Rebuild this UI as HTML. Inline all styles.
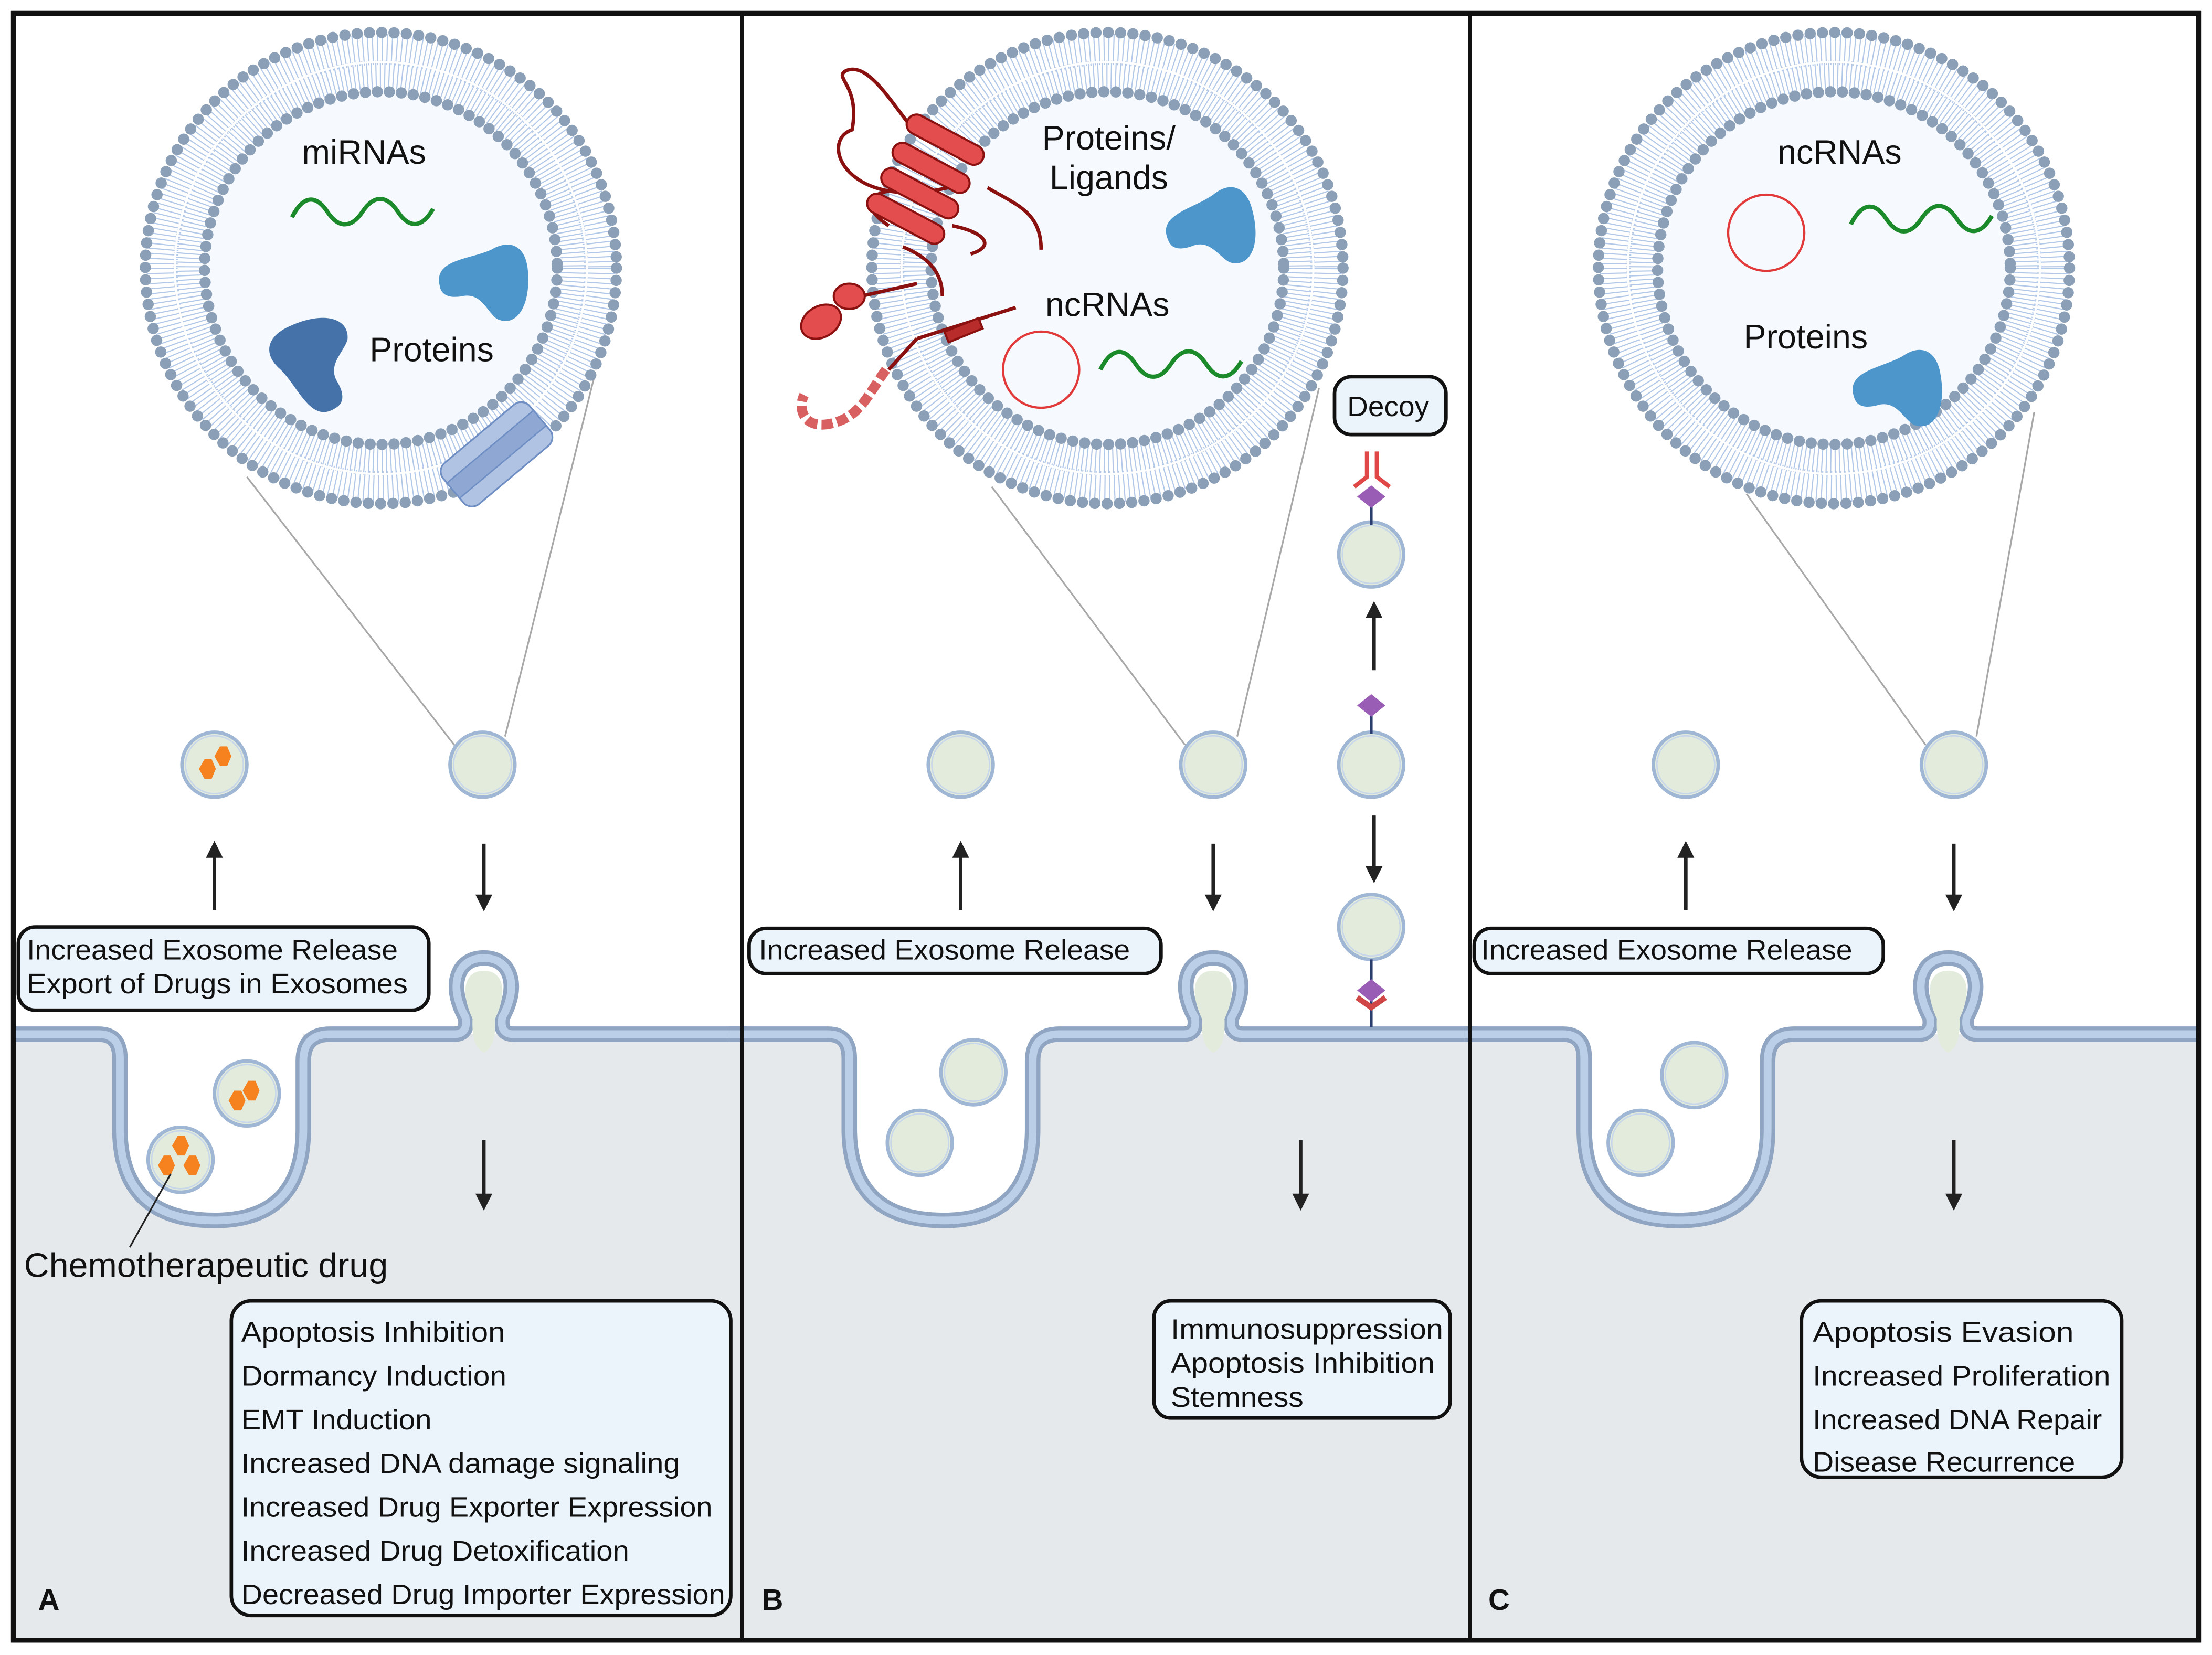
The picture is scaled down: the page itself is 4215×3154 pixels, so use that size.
<!DOCTYPE html>
<html><head><meta charset="utf-8"><style>
html,body{margin:0;padding:0;background:#fff}
svg{display:block}
text{font-family:"Liberation Sans",sans-serif;fill:#111}
</style></head><body>
<svg width="4215" height="3154" viewBox="0 0 1568 1173" preserveAspectRatio="none" xmlns="http://www.w3.org/2000/svg">
<defs>
<g id="ves">
  <circle r="23" fill="#e3ecdc" stroke="#9fb6d4" stroke-width="2.5"/>
  <circle r="20.5" fill="none" stroke="#c8d6ea" stroke-width="1"/>
</g>
<g id="big">
  <circle r="168" fill="#fff"/>
  <circle r="126" fill="#f6f9fd"/>
  <circle r="155" fill="none" stroke="#b2c8e8" stroke-width="22" stroke-dasharray="0.8 2.6"/>
  <circle r="137" fill="none" stroke="#b2c8e8" stroke-width="20" stroke-dasharray="0.8 2.3"/>
  <circle r="146" fill="none" stroke="#fff" stroke-width="1.5"/>
  <circle r="167" fill="none" stroke="#8b9fb6" stroke-width="8" stroke-linecap="round" stroke-dasharray="0 8.75"/>
  <circle r="125" fill="none" stroke="#8b9fb6" stroke-width="8" stroke-linecap="round" stroke-dasharray="0 8.5"/>
</g>
<g id="mem">
  <rect x="0" y="733" width="530" height="430" fill="#e6e9ec"/>
  <path d="M85 733 V800 Q85 865 152 865 Q215 865 215 800 V733 Z" fill="#fff"/>
  <path d="M0 733 H70 Q85 733 85 750 V800 Q85 865 152 865 Q215 865 215 800 V752 Q215 733 234 733 H322 Q332 733 330 721 C318 700 323 679 343 679 C363 679 368 700 356 721 Q354 733 364 733 H530" fill="none" stroke="#8fa5c2" stroke-width="11"/>
  <path d="M0 733 H70 Q85 733 85 750 V800 Q85 865 152 865 Q215 865 215 800 V752 Q215 733 234 733 H322 Q332 733 330 721 C318 700 323 679 343 679 C363 679 368 700 356 721 Q354 733 364 733 H530" fill="none" stroke="#bccfe8" stroke-width="5.5"/>
  <path d="M335 722 C326 703 329 688 343 688 C357 688 360 703 351 722 Q352 742 343 746 Q334 742 335 722Z" fill="#e3ecdc"/>
</g>
<g id="wave"><path d="M0 12 C8 -4 17 -4 25 8 C33 20 42 20 50 8 C58 -4 67 -4 75 8 C83 20 92 20 100 6" fill="none" stroke="#1a8a2a" stroke-width="3"/></g>
<g id="bean"><path d="M-30 10 C-38 -8 -12 -12 2 -22 C14 -32 26 -28 30 -10 C36 14 28 30 14 26 C6 22 0 10 -12 14 C-22 18 -28 16 -30 10Z"/></g>
</defs>

<rect width="1568" height="1173" fill="#fff"/>
<use href="#mem"/>
<use href="#mem" transform="translate(517,0)"/>
<use href="#mem" transform="translate(1038,0)"/>

<g stroke="#a8a8a8" stroke-width="1.2" fill="none">
<line x1="322" y1="528" x2="175" y2="338"/><line x1="358" y1="522" x2="421" y2="268"/>
<line x1="840" y1="528" x2="703" y2="345"/><line x1="877" y1="522" x2="935" y2="275"/>
<line x1="1365" y1="528" x2="1238" y2="350"/><line x1="1401" y1="522" x2="1442" y2="292"/>
</g>

<use href="#big" transform="translate(270,190)"/>
<use href="#big" transform="translate(785,190)"/>
<use href="#big" transform="translate(1300,190)"/>

<text x="258" y="116" font-size="24" text-anchor="middle">miRNAs</text>
<use href="#wave" transform="translate(207,142)"/>
<use href="#bean" transform="translate(343,198) rotate(10)" fill="#4d96cc"/>
<use href="#bean" transform="translate(222,260) rotate(-100) scale(1.05)" fill="#4573a9"/>
<text x="306" y="256" font-size="24" text-anchor="middle">Proteins</text>
<g transform="translate(352,322) rotate(-40)">
  <rect x="-40" y="-19" width="80" height="38" rx="8" fill="#b0c3e2" stroke="#6f8ec4" stroke-width="1.2"/>
  <rect x="-40" y="-7" width="80" height="14" fill="#8fa8d3" stroke="#6f8ec4" stroke-width="1"/>
</g>

<text x="786" y="106" font-size="24" text-anchor="middle">Proteins/</text>
<text x="786" y="134" font-size="24" text-anchor="middle">Ligands</text>
<use href="#bean" transform="translate(858,160) rotate(0)" fill="#4d96cc"/>
<text x="785" y="224" font-size="24" text-anchor="middle">ncRNAs</text>
<circle cx="738" cy="262" r="27" fill="none" stroke="#e23a3a" stroke-width="1.6"/>
<use href="#wave" transform="translate(780,250)"/>
<g stroke="#8b1010" stroke-width="2.5" fill="none">
  <path d="M672 133 C600 150 580 100 604 92 C610 60 590 55 600 50 C615 44 630 70 646 90"/>
  <path d="M700 133 C720 145 738 150 738 177"/>
  <path d="M655 140 C630 128 600 140 630 160"/>
  <path d="M675 160 C700 165 705 175 688 180"/>
  <path d="M640 175 C665 185 668 200 668 210"/>
  <line x1="610" y1="210" x2="650" y2="201"/>
  <path d="M650 240 L720 218"/>
  <path d="M630 262 L650 240"/>
</g>
<g fill="#e34d4d" stroke="#8b1010" stroke-width="1.5">
  <rect x="640" y="92" width="60" height="14" rx="7" transform="rotate(28 670 99)"/>
  <rect x="630" y="112" width="60" height="14" rx="7" transform="rotate(28 660 119)"/>
  <rect x="622" y="130" width="60" height="14" rx="7" transform="rotate(28 652 137)"/>
  <rect x="612" y="148" width="60" height="14" rx="7" transform="rotate(28 642 155)"/>
  <ellipse cx="582" cy="228" rx="15" ry="11" transform="rotate(-30 582 228)"/>
  <ellipse cx="602" cy="210" rx="11" ry="9"/>
  <rect x="670" y="230" width="26" height="8" fill="#b82c2c" transform="rotate(-22 683 234)"/>
</g>
<path d="M628 262 C615 280 610 295 590 300 C570 305 565 290 570 280" fill="none" stroke="#d96060" stroke-width="7" stroke-dasharray="8 3"/>

<text x="1304" y="116" font-size="24" text-anchor="middle">ncRNAs</text>
<circle cx="1252" cy="165" r="27" fill="none" stroke="#e23a3a" stroke-width="1.6"/>
<use href="#wave" transform="translate(1312,147)"/>
<text x="1280" y="247" font-size="24" text-anchor="middle">Proteins</text>
<use href="#bean" transform="translate(1345,274) rotate(5)" fill="#4d96cc"/>

<use href="#ves" transform="translate(152,542)"/>
<g fill="#f5821f"><polygon points="141,545 145,538 150,538 153,545 150,552 145,552"/><polygon points="152,536 156,529 161,529 164,536 161,543 156,543"/></g>
<use href="#ves" transform="translate(342,542)"/>
<use href="#ves" transform="translate(681,542)"/>
<use href="#ves" transform="translate(860,542)"/>
<use href="#ves" transform="translate(972,542)"/>
<use href="#ves" transform="translate(972,393)"/>
<use href="#ves" transform="translate(972,657)"/>
<use href="#ves" transform="translate(1195,542)"/>
<use href="#ves" transform="translate(1385,542)"/>
<use href="#ves" transform="translate(175,775)"/>
<use href="#ves" transform="translate(128,822)"/>
<g fill="#f5821f">
<polygon points="162,780 166,773 171,773 174,780 171,787 166,787"/><polygon points="172,773 176,766 181,766 184,773 181,780 176,780"/>
<polygon points="122,812 126,805 131,805 134,812 131,819 126,819"/><polygon points="112,826 116,819 121,819 124,826 121,833 116,833"/><polygon points="130,826 134,819 139,819 142,826 139,833 134,833"/>
</g>
<line x1="121" y1="832" x2="92" y2="884" stroke="#222" stroke-width="1.2"/>
<use href="#ves" transform="translate(690,760)"/>
<use href="#ves" transform="translate(652,810)"/>
<use href="#ves" transform="translate(1201,762)"/>
<use href="#ves" transform="translate(1163,810)"/>

<g>
  <path d="M969 320 V338 L960 345 M976 320 V338 L985 345" stroke="#e04848" stroke-width="3" fill="none"/>
  <line x1="972" y1="358" x2="972" y2="372" stroke="#2b3d6e" stroke-width="2"/>
  <polygon points="972,344 982,352 972,360 962,352" fill="#9a5db5"/>
  <line x1="972" y1="506" x2="972" y2="520" stroke="#2b3d6e" stroke-width="2"/>
  <polygon points="972,492 982,500 972,508 962,500" fill="#9a5db5"/>
  <line x1="972" y1="680" x2="972" y2="728" stroke="#2b3d6e" stroke-width="2"/>
  <path d="M962 707 L972 714 L982 707" stroke="#d04545" stroke-width="4" fill="none"/>
  <polygon points="972,694 982,702 972,710 962,702" fill="#9a5db5"/>
</g>

<g stroke="#222" stroke-width="2.5">
<line x1="152" y1="645" x2="152" y2="606"/><line x1="343" y1="598" x2="343" y2="636"/><line x1="343" y1="808" x2="343" y2="848"/>
<line x1="681" y1="645" x2="681" y2="606"/><line x1="860" y1="598" x2="860" y2="636"/><line x1="922" y1="808" x2="922" y2="848"/>
<line x1="974" y1="475" x2="974" y2="436"/><line x1="974" y1="578" x2="974" y2="616"/>
<line x1="1195" y1="645" x2="1195" y2="606"/><line x1="1385" y1="598" x2="1385" y2="636"/><line x1="1385" y1="808" x2="1385" y2="848"/>
</g>
<g fill="#222">
<polygon points="146,608 152,596 158,608"/><polygon points="337,634 343,646 349,634"/><polygon points="337,846 343,858 349,846"/>
<polygon points="675,608 681,596 687,608"/><polygon points="854,634 860,646 866,634"/><polygon points="916,846 922,858 928,846"/>
<polygon points="968,438 974,426 980,438"/><polygon points="968,614 974,626 980,614"/>
<polygon points="1189,608 1195,596 1201,608"/><polygon points="1379,634 1385,646 1391,634"/><polygon points="1379,846 1385,858 1391,846"/>
</g>

<g fill="#ebf3fb" stroke="#111" stroke-width="2.5">
<rect x="13" y="657" width="291" height="59" rx="12"/>
<rect x="164" y="922" width="354" height="223" rx="14"/>
<rect x="531" y="658" width="292" height="32" rx="12"/>
<rect x="818" y="922" width="210" height="83" rx="12"/>
<rect x="946" y="267" width="79" height="41" rx="12"/>
<rect x="1045" y="658" width="290" height="32" rx="12"/>
<rect x="1277" y="922" width="227" height="125" rx="14"/>
</g>
<g font-size="20">
<text x="19" y="680" textLength="263" lengthAdjust="spacingAndGlyphs">Increased Exosome Release</text>
<text x="19" y="704" textLength="270" lengthAdjust="spacingAndGlyphs">Export of Drugs in Exosomes</text>
<text x="538" y="680" textLength="263" lengthAdjust="spacingAndGlyphs">Increased Exosome Release</text>
<text x="1050" y="680" textLength="263" lengthAdjust="spacingAndGlyphs">Increased Exosome Release</text>
<text x="955" y="295" textLength="58" lengthAdjust="spacingAndGlyphs">Decoy</text>
<text x="171" y="951" textLength="187" lengthAdjust="spacingAndGlyphs">Apoptosis Inhibition</text>
<text x="171" y="982" textLength="188" lengthAdjust="spacingAndGlyphs">Dormancy Induction</text>
<text x="171" y="1013" textLength="135" lengthAdjust="spacingAndGlyphs">EMT Induction</text>
<text x="171" y="1044" textLength="311" lengthAdjust="spacingAndGlyphs">Increased DNA damage signaling</text>
<text x="171" y="1075" textLength="334" lengthAdjust="spacingAndGlyphs">Increased Drug Exporter Expression</text>
<text x="171" y="1106" textLength="275" lengthAdjust="spacingAndGlyphs">Increased Drug Detoxification</text>
<text x="171" y="1137" textLength="343" lengthAdjust="spacingAndGlyphs">Decreased Drug Importer Expression</text>
<text x="830" y="949" textLength="193" lengthAdjust="spacingAndGlyphs">Immunosuppression</text>
<text x="830" y="973" textLength="187" lengthAdjust="spacingAndGlyphs">Apoptosis Inhibition</text>
<text x="830" y="997" textLength="94" lengthAdjust="spacingAndGlyphs">Stemness</text>
<text x="1285" y="951" textLength="185" lengthAdjust="spacingAndGlyphs">Apoptosis Evasion</text>
<text x="1285" y="982" textLength="211" lengthAdjust="spacingAndGlyphs">Increased Proliferation</text>
<text x="1285" y="1013" textLength="205" lengthAdjust="spacingAndGlyphs">Increased DNA Repair</text>
<text x="1285" y="1043" textLength="186" lengthAdjust="spacingAndGlyphs">Disease Recurrence</text>
</g>
<text x="17" y="905" font-size="24" textLength="258" lengthAdjust="spacingAndGlyphs">Chemotherapeutic drug</text>
<g font-size="21" font-weight="bold"><text x="27" y="1141">A</text><text x="540" y="1141">B</text><text x="1055" y="1141">C</text></g>

<rect x="9.5" y="9.5" width="1549" height="1153" fill="none" stroke="#111" stroke-width="3.5"/>
<rect x="0" y="0" width="8" height="1173" fill="#fff"/>
<rect x="1560" y="0" width="8" height="1173" fill="#fff"/>
<rect x="9.5" y="9.5" width="1549" height="1153" fill="none" stroke="#111" stroke-width="3.5"/>
<line x1="526" y1="10" x2="526" y2="1162" stroke="#111" stroke-width="2.5"/>
<line x1="1042" y1="10" x2="1042" y2="1162" stroke="#111" stroke-width="2.5"/>
</svg>
</body></html>
